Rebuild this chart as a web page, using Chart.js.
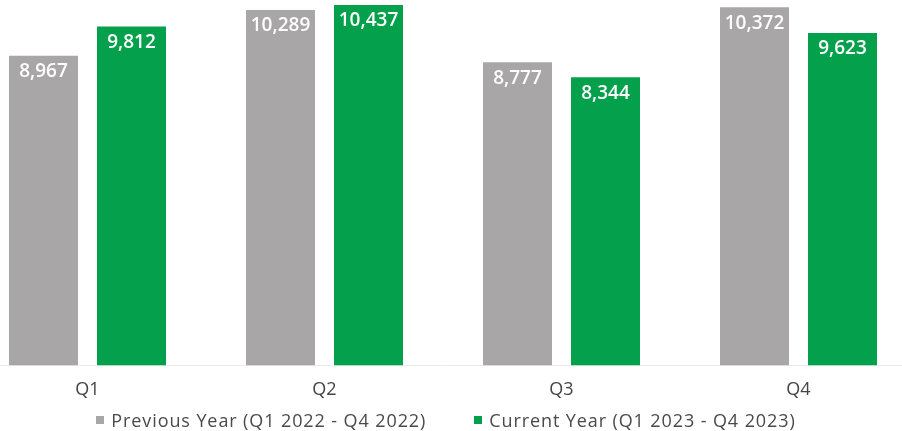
<!DOCTYPE html>
<html>
<head>
<meta charset="utf-8">
<script src="https://cdn.jsdelivr.net/npm/chart.js@4.4.1/dist/chart.umd.min.js"></script>
<style>
  html, body { margin: 0; padding: 0; background: #ffffff; overflow: hidden; width: 902px; height: 431px; }
  #wrap { position: absolute; left: -31px; top: 0; width: 948px; height: 431px; }
  #legend { position: absolute; left: -5px; top: 409px; width: 902px; height: 22px;
            display: flex; justify-content: center; align-items: center; gap: 48px;
            font-family: "Open Sans", sans-serif; font-size: 18px; letter-spacing: 0.9px; color: #4a4a4a; }
  #legend .item { display: flex; align-items: center; white-space: nowrap; }
  #legend .box { width: 8px; height: 8px; margin-right: 7px; }
</style>
</head>
<body>
<div id="wrap"><canvas id="chart"></canvas></div>
<div id="legend"></div>
<script>
// Quarterly totals, previous year vs current year
const quarters = ['Q1', 'Q2', 'Q3', 'Q4'];
const previousYear = [8967, 10289, 8777, 10372];
const currentYear = [9812, 10437, 8344, 9623];
const seriesNames = ['Previous Year (Q1 2022 - Q4 2022)', 'Current Year (Q1 2023 - Q4 2023)'];

const GRAY = '#a8a6a6';
const GREEN = '#05a04b';
const FONT = '"Open Sans", "DejaVu Sans", sans-serif';

// Writes each bar's value in white just below the bar's top edge
const valueLabels = {
  id: 'valueLabels',
  afterDatasetsDraw(chart) {
    const ctx = chart.ctx;
    ctx.save();
    ctx.fillStyle = '#ffffff';
    ctx.font = '600 19px ' + FONT;
    ctx.textAlign = 'center';
    ctx.textBaseline = 'middle';
    chart.data.datasets.forEach((ds, i) => {
      chart.getDatasetMeta(i).data.forEach((bar, j) => {
        ctx.fillText(ds.data[j].toLocaleString('en-US'), bar.x, bar.y + 16);
      });
    });
    ctx.restore();
  }
};

const chart = new Chart(document.getElementById('chart'), {
  type: 'bar',
  data: {
    labels: quarters,
    datasets: [
      { label: seriesNames[0], data: previousYear, backgroundColor: GRAY, barPercentage: 0.784, categoryPercentage: 0.7426 },
      { label: seriesNames[1], data: currentYear, backgroundColor: GREEN, barPercentage: 0.784, categoryPercentage: 0.7426 }
    ]
  },
  options: {
    responsive: true,
    maintainAspectRatio: false,
    animation: false,
    layout: { padding: { top: 0, bottom: 24, left: 0, right: 0 } },
    scales: {
      x: {
        grid: { display: false },
        border: { display: true, color: '#ececec', width: 1 },
        ticks: { color: '#444444', font: { family: FONT, size: 18 }, padding: 6 }
      },
      y: {
        display: false,
        min: 0,
        max: 10580
      }
    },
    plugins: {
      legend: { display: false },
      tooltip: { enabled: false }
    }
  },
  plugins: [valueLabels]
});

// Legend row built from the chart's own datasets
const legendEl = document.getElementById('legend');
chart.data.datasets.forEach(ds => {
  const item = document.createElement('span');
  item.className = 'item';
  const box = document.createElement('span');
  box.className = 'box';
  box.style.background = ds.backgroundColor;
  const text = document.createElement('span');
  text.textContent = ds.label;
  item.appendChild(box);
  item.appendChild(text);
  legendEl.appendChild(item);
});
</script>
</body>
</html>
